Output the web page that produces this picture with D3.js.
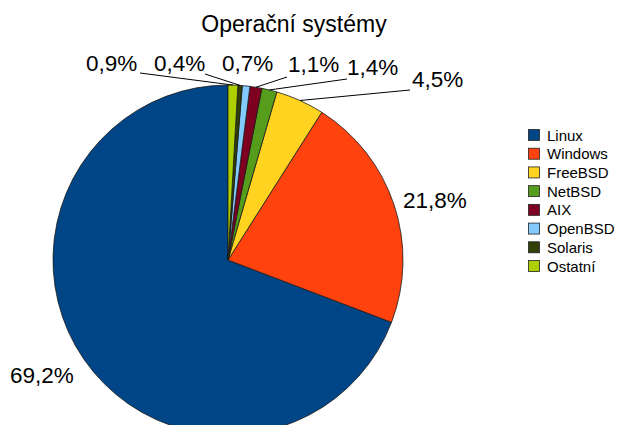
<!DOCTYPE html>
<html><head><meta charset="utf-8">
<script src="https://cdn.jsdelivr.net/npm/d3@7"></script>
<style>body{margin:0;background:#fff}svg{display:block;font-family:"Liberation Sans",Arial,sans-serif}</style>
</head><body>
<svg id="c" width="617" height="425"></svg>
<script>
const title = "Operační systémy";
const categories = ["Linux","Windows","FreeBSD","NetBSD","AIX","OpenBSD","Solaris","Ostatní"];
const values = [69.2,21.8,4.5,1.4,1.1,0.7,0.4,0.9];
const labels = ["69,2%","21,8%","4,5%","1,4%","1,1%","0,7%","0,4%","0,9%"];
const colors = ["#004586","#ff420e","#ffd320","#579d1c","#7e0021","#83caff","#314004","#aecf00"];

// label layout (text start x, baseline y, leader start x, y)
const labelLayout = [
  {x:10, y:383, lx:null},
  {x:403, y:208, lx:null},
  {x:412, y:87, lx:410, ly:90},
  {x:347, y:75, lx:347, ly:79},
  {x:288, y:72, lx:287, ly:77},
  {x:222, y:71, lx:null},
  {x:154, y:71, lx:205, ly:74},
  {x:86, y:71, lx:140, ly:73}
];

const svg = d3.select("#c");
const cx = 228, cy = 260, r = 175;

svg.append("text").attr("x",294).attr("y",32).attr("text-anchor","middle")
  .attr("font-size",23).attr("fill","#000").text(title);

const idx = d3.range(categories.length);
// counter-clockwise from top
const pie = d3.pie().sort(null).value(i=>values[i]).startAngle(0).endAngle(-2*Math.PI);
const arcs = pie(idx);
const arc = d3.arc().innerRadius(0).outerRadius(r);
const g = svg.append("g").attr("transform",`translate(${cx},${cy})`);
g.selectAll("path").data(arcs).join("path")
  .attr("d",arc).attr("fill",d=>colors[d.data])
  .attr("stroke","#1a1a1a").attr("stroke-width",0.8).attr("stroke-linejoin","round");

// leader lines
arcs.forEach(a=>{
  const L = labelLayout[a.data];
  if (L.lx==null) return;
  const m = (a.startAngle+a.endAngle)/2;
  const ex = cx + r*Math.sin(m), ey = cy - r*Math.cos(m);
  svg.append("line").attr("x1",L.lx).attr("y1",L.ly).attr("x2",ex).attr("y2",ey)
    .attr("stroke","#000").attr("stroke-width",1);
});
idx.forEach(i=>{
  const L = labelLayout[i];
  svg.append("text").attr("x",L.x).attr("y",L.y).attr("font-size",22.5)
    .attr("fill","#000").text(labels[i]);
});

// legend
const lg = svg.append("g").attr("transform","translate(528,135)");
const ly = d3.scalePoint().domain(idx).range([0,131]);
idx.forEach(i=>{
  lg.append("rect").attr("x",0.5).attr("y",ly(i)-5.5).attr("width",11).attr("height",11)
    .attr("fill",colors[i]).attr("stroke","#222").attr("stroke-width",0.8);
  lg.append("text").attr("x",19).attr("y",ly(i)+5.5).attr("font-size",15)
    .attr("fill","#000").text(categories[i]);
});
</script>
</body></html>
